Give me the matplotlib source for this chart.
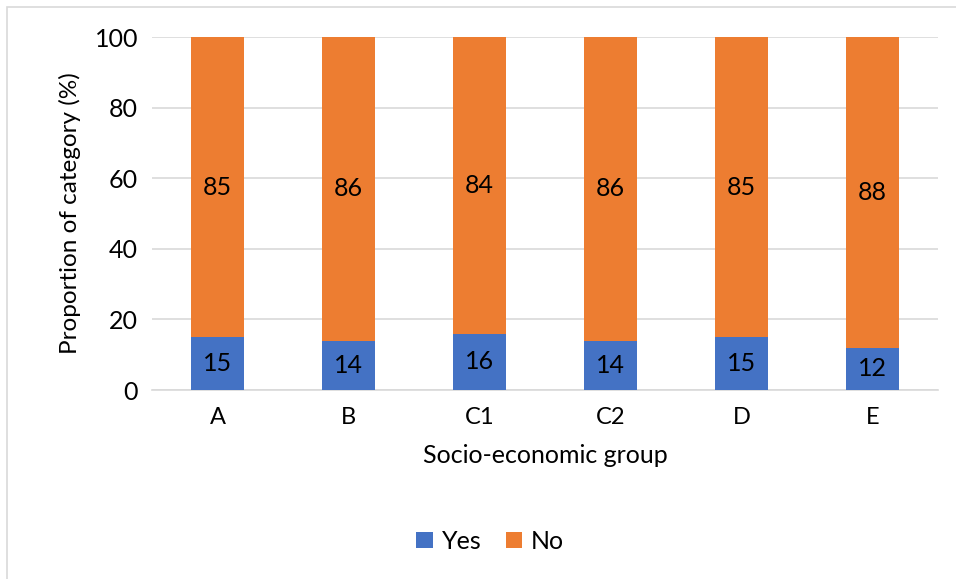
import matplotlib.pyplot as plt
import numpy as np
from matplotlib.patches import Rectangle

groups = ['A', 'B', 'C1', 'C2', 'D', 'E']
yes = [15, 14, 16, 14, 15, 12]
no = [85, 86, 84, 86, 85, 88]

blue = '#4472C4'
orange = '#ED7D31'
grid = '#D9D9D9'

plt.rcParams['font.family'] = ['Lato', 'DejaVu Sans']

fig = plt.figure(figsize=(9.56, 5.79), dpi=100)
ax = fig.add_axes([0.159, 0.3264, 0.822, 0.6096])

x = np.arange(len(groups))
b1 = ax.bar(x, yes, width=0.4, color=blue, zorder=3)
b2 = ax.bar(x, no, width=0.4, bottom=yes, color=orange, zorder=3)

for i in range(len(groups)):
    ax.text(x[i], yes[i] / 2, str(yes[i]), ha='center', va='center', fontsize=18, zorder=4)
    ax.text(x[i], yes[i] + no[i] / 2, str(no[i]), ha='center', va='center', fontsize=18, zorder=4)

ax.set_xlim(-0.5, len(groups) - 0.5)
ax.set_ylim(0, 100)
ax.set_yticks([0, 20, 40, 60, 80, 100])
ax.set_xticks(x)
ax.set_xticklabels(groups)
ax.tick_params(length=0, labelsize=18, pad=12)
ax.tick_params(axis='x', labelsize=17)
ax.tick_params(axis='y', pad=10)
ax.yaxis.grid(True, color=grid, linewidth=1.2, zorder=0)
for s in ['top', 'right', 'left']:
    ax.spines[s].set_visible(False)
ax.spines['bottom'].set_color(grid)
ax.spines['bottom'].set_linewidth(1.2)

ax.set_xlabel('Socio-economic group', fontsize=18, labelpad=12)
ax.set_ylabel('Proportion of category (%)', fontsize=17.5, labelpad=10)

fig.legend([b1, b2], ['Yes', 'No'], loc='center', bbox_to_anchor=(0.513, 0.065),
           ncol=2, frameon=False, fontsize=18, handlelength=0.65, handleheight=0.65,
           handletextpad=0.35, columnspacing=1.0)

# outer chart frame
fig.patches.append(Rectangle((7 / 956, -0.1), 1.2, 1.1 - 7 / 579, transform=fig.transFigure,
                             fill=False, edgecolor=grid, linewidth=1.2))

fig.savefig('out.png', dpi=100)
